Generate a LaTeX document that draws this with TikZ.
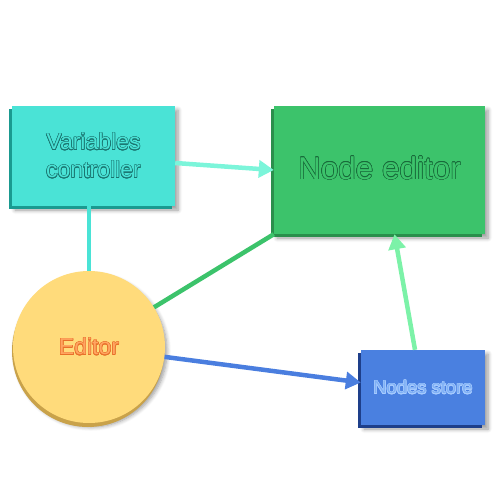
\documentclass[tikz,border=0pt]{standalone}
\usepackage{fontspec}
\setmainfont{Liberation Sans}
\usepackage[copies]{contour}
\usetikzlibrary{arrows.meta,shadows,shadows.blur}
\definecolor{vcfill}{HTML}{4AE3D6}
\definecolor{vcdark}{HTML}{1A9A90}
\definecolor{vctext}{HTML}{1A7570}
\definecolor{nefill}{HTML}{3CC36B}
\definecolor{nedark}{HTML}{2A8F4C}
\definecolor{netext}{HTML}{186B3A}
\definecolor{edfill}{HTML}{FFDB7B}
\definecolor{eddark}{HTML}{C9A24A}
\definecolor{edtextin}{HTML}{FFA560}
\definecolor{edtextout}{HTML}{E8702A}
\definecolor{nsfill}{HTML}{4A80E0}
\definecolor{nsdark}{HTML}{1E3F8A}
\definecolor{nstextin}{HTML}{7FB0F5}
\definecolor{nstextout}{HTML}{A8CCFF}
\definecolor{lnaqua}{HTML}{7CF5DA}
\definecolor{lnturq}{HTML}{4AE3D6}
\definecolor{lngreen}{HTML}{3CC36B}
\definecolor{lnblue}{HTML}{4A7EDF}
\definecolor{lnlight}{HTML}{7CF2A8}
\contourlength{0.5pt}
\contournumber{16}
\newcommand{\outl}[3]{\contour{#1}{\textcolor{#2}{#3}}}
\tikzset{
  boxnode/.style={rectangle, inner sep=0pt, align=center,
    blur shadow={shadow xshift=3pt, shadow yshift=-4pt, shadow blur steps=6, shadow blur radius=4pt},
    general shadow={fill=#1, shadow xshift=-3pt, shadow yshift=-3pt}},
  conn/.style={line width=4.5pt},
  tip/.style={-{Triangle[length=15pt,width=17pt]}},
}
\begin{document}
\begin{tikzpicture}[x=1pt,y=-1pt]
\useasboundingbox (0,0) rectangle (500,500);
\coordinate (vcc) at (93.5,156);
\coordinate (nec) at (379.5,170);
\coordinate (edc) at (89,347);
\coordinate (nsc) at (423,387.5);

\node[boxnode=vcdark, fill=vcfill, minimum width=163pt, minimum height=100pt,
  font=\fontsize{23}{28}\selectfont] (vc) at (vcc) {\outl{vctext}{vcfill}{Variables}\\\outl{vctext}{vcfill}{controller}};
\node[boxnode=nedark, fill=nefill, minimum width=211pt, minimum height=128pt,
  font=\fontsize{31.5}{36}\selectfont] (ne) at (nec) {\raisebox{4pt}{\outl{netext}{nefill}{Node editor}}};
\node[circle, inner sep=0pt, minimum size=152pt, fill=edfill,
  blur shadow={shadow xshift=2pt, shadow yshift=-4pt, shadow blur steps=6, shadow blur radius=4pt},
  general shadow={fill=eddark, shadow xshift=-1pt, shadow yshift=-4pt},
  font=\fontsize{23}{28}\selectfont] (ed) at (edc) {\outl{edtextout}{edtextin}{Editor}};
\node[boxnode=nsdark, fill=nsfill, minimum width=124pt, minimum height=75pt,
  font=\fontsize{18.4}{22}\selectfont] (ns) at (nsc) {\outl{nstextout}{nstextin}{Nodes store}};

\draw[conn, lnaqua, tip] ([yshift=-7pt]vc.east) -- (ne.west);
\draw[conn, lnturq] (ed.north) -- (ed.north |- vc.south);
\draw[conn, lngreen] (ed) -- (ne.south west);
\draw[conn, lnblue, tip] (ed) -- ([yshift=5pt]ns.west);
\draw[conn, lnlight, tip] ([xshift=-8pt]ns.north) -- ([xshift=15pt]ne.south);
\end{tikzpicture}
\end{document}
